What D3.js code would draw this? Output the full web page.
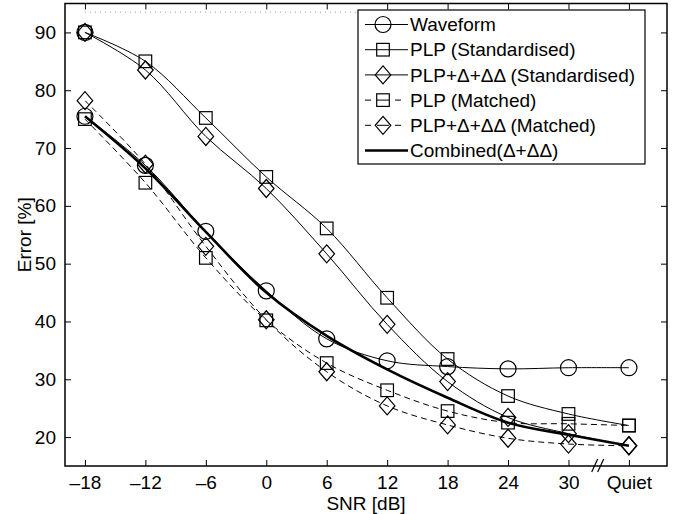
<!DOCTYPE html>
<html>
<head>
<meta charset="utf-8">
<script src="https://cdn.jsdelivr.net/npm/d3@7"></script>
<style>
  body { margin: 0; background: #fff; }
  svg text { font-family: "Liberation Sans", Arial, Helvetica, sans-serif; fill: #000; }
</style>
</head>
<body>
<div id="chart"></div>
<script>
var snrLabels = ['\u201318', '\u201312', '\u20136', '0', '6', '12', '18', '24', '30', 'Quiet']
var yTicks = [20, 30, 40, 50, 60, 70, 80, 90]

var waveform      = [75.5, 67.0, 55.6, 45.3, 37.0, 33.2, 32.2, 31.8, 32.0, 32.0]
var plpStd        = [90.0, 85.0, 75.2, 65.0, 56.1, 44.1, 33.5, 27.1, 24.0, 22.0]
var plpDeltaStd   = [90.0, 83.5, 72.0, 63.0, 51.7, 39.5, 29.6, 23.4, 20.6, 18.5]
var plpMatched    = [75.0, 64.0, 51.0, 40.2, 32.8, 28.1, 24.5, 22.5, 22.3, 22.0]
var plpDeltaMatch = [78.2, 67.2, 53.0, 40.3, 31.3, 25.4, 22.1, 19.8, 18.8, 18.5]
var combined      = [75.5, 66.5, 55.5, 45.0, 37.5, 31.7, 26.8, 22.5, 20.4, 18.5]
// a lone circle marker sits on top of the -18 dB cluster at 90
var extraCircles  = [{i: 0, v: 90}]
var refLevel = 93.5

var series = [
  {name: 'Waveform', values: waveform, marker: 'circle', dash: null, width: 1},
  {name: 'PLP (Standardised)', values: plpStd, marker: 'square', dash: null, width: 1},
  {name: 'PLP+\u0394+\u0394\u0394 (Standardised)', values: plpDeltaStd, marker: 'diamond', dash: null, width: 1},
  {name: 'PLP (Matched)', values: plpMatched, marker: 'square', dash: '6,4', width: 1},
  {name: 'PLP+\u0394+\u0394\u0394 (Matched)', values: plpDeltaMatch, marker: 'diamond', dash: '6,4', width: 1},
  {name: 'Combined(\u0394+\u0394\u0394)', values: combined, marker: null, dash: null, width: 2.6},
]

var W = 680, H = 514
var pL = 65, pR = 667, pT = 3.5, pB = 466

var svg = d3.select('#chart').append('svg').attr('width', W).attr('height', H)

var x = d3.scaleLinear().domain([-0.33, 9.63]).range([pL, pR])
var y = d3.scaleLinear().domain([15, 95]).range([pB, pT])

var idx = d3.range(snrLabels.length)

// axes: ticks point inward on all four sides
var g = svg.append('g')
g.append('g').attr('transform', `translate(0,${pB})`)
  .call(d3.axisBottom(x).tickValues(idx).tickFormat(i => snrLabels[i]).tickSizeInner(-6).tickSizeOuter(0).tickPadding(10))
g.append('g').attr('transform', `translate(0,${pT})`)
  .call(d3.axisTop(x).tickValues(idx).tickFormat('').tickSizeInner(-6).tickSizeOuter(0))
g.append('g').attr('transform', `translate(${pL},0)`)
  .call(d3.axisLeft(y).tickValues(yTicks).tickSizeInner(-6).tickSizeOuter(0).tickPadding(9))
g.append('g').attr('transform', `translate(${pR},0)`)
  .call(d3.axisRight(y).tickValues(yTicks).tickFormat('').tickSizeInner(-6).tickSizeOuter(0))

g.selectAll('.domain').remove()
g.selectAll('.tick line').attr('stroke', '#000').attr('stroke-width', 1)
g.selectAll('.tick text').style('font-size', '19px')

svg.append('rect')
  .attr('x', pL).attr('y', pT).attr('width', pR - pL).attr('height', pB - pT)
  .attr('fill', 'none').attr('stroke', '#000').attr('stroke-width', 1.5)

// faint dotted reference line at the top
svg.append('line')
  .attr('x1', x(0)).attr('x2', x(9)).attr('y1', y(refLevel)).attr('y2', y(refLevel))
  .attr('stroke', '#999').attr('stroke-width', 1).attr('stroke-dasharray', '1,4')

// axis break between 30 and Quiet
var bx = (x(8) + x(9)) / 2 - 1
;[-3, 3].forEach(dx => {
  svg.append('line')
    .attr('x1', bx + dx - 3).attr('y1', pB + 6).attr('x2', bx + dx + 3).attr('y2', pB - 7)
    .attr('stroke', '#000').attr('stroke-width', 1.2)
})

// labels
svg.append('text').text('SNR [dB]')
  .attr('x', (pL + pR) / 2).attr('y', 510)
  .attr('text-anchor', 'middle').style('font-size', '19px')
svg.append('text').text('Error [%]')
  .attr('transform', `translate(31,${(pT + pB) / 2}) rotate(-90)`)
  .attr('text-anchor', 'middle').style('font-size', '19px')

function drawMarker(sel, type, cx, cy) {
  var m
  if (type == 'circle') {
    m = sel.append('circle').attr('cx', cx).attr('cy', cy).attr('r', 8)
  } else if (type == 'square') {
    m = sel.append('rect').attr('x', cx - 6.3).attr('y', cy - 6.3).attr('width', 12.6).attr('height', 12.6)
  } else if (type == 'diamond') {
    m = sel.append('path').attr('d', `M${cx},${cy - 9}L${cx + 7.8},${cy}L${cx},${cy + 9}L${cx - 7.8},${cy}Z`)
  }
  if (m) m.attr('fill', 'none').attr('stroke', '#000').attr('stroke-width', 1.2)
}

var line = d3.line().x((d, i) => x(i)).y(d => y(d)).curve(d3.curveCatmullRom.alpha(0.5))

var plot = svg.append('g')
series.forEach(s => {
  plot.append('path')
    .attr('d', line(s.values))
    .attr('fill', 'none').attr('stroke', '#000')
    .attr('stroke-width', s.width)
    .attr('stroke-dasharray', s.dash)
  if (s.marker) s.values.forEach((v, i) => drawMarker(plot, s.marker, x(i), y(v)))
})
extraCircles.forEach(d => drawMarker(plot, 'circle', x(d.i), y(d.v)))

// legend
var lg = svg.append('g')
lg.append('rect')
  .attr('x', 358).attr('y', 10).attr('width', 287).attr('height', 154)
  .attr('fill', '#fff').attr('stroke', '#000').attr('stroke-width', 1.2)

series.forEach((s, i) => {
  var ly = 24.5 + i * 25.2
  var row = lg.append('g')
  if (s.dash) {
    row.append('line').attr('x1', 365).attr('x2', 371).attr('y1', ly).attr('y2', ly).attr('stroke', '#000')
    row.append('line').attr('x1', 377).attr('x2', 389).attr('y1', ly).attr('y2', ly).attr('stroke', '#000')
    row.append('line').attr('x1', 395).attr('x2', 401).attr('y1', ly).attr('y2', ly).attr('stroke', '#000')
  } else {
    row.append('line').attr('x1', 365).attr('x2', 408).attr('y1', ly).attr('y2', ly)
      .attr('stroke', '#000').attr('stroke-width', s.width)
  }
  if (s.marker) drawMarker(row, s.marker, 383, ly)
  row.append('text').text(s.name)
    .attr('x', 410).attr('y', ly).attr('dy', '0.35em')
    .style('font-size', '19px')
})
</script>
</body>
</html>
